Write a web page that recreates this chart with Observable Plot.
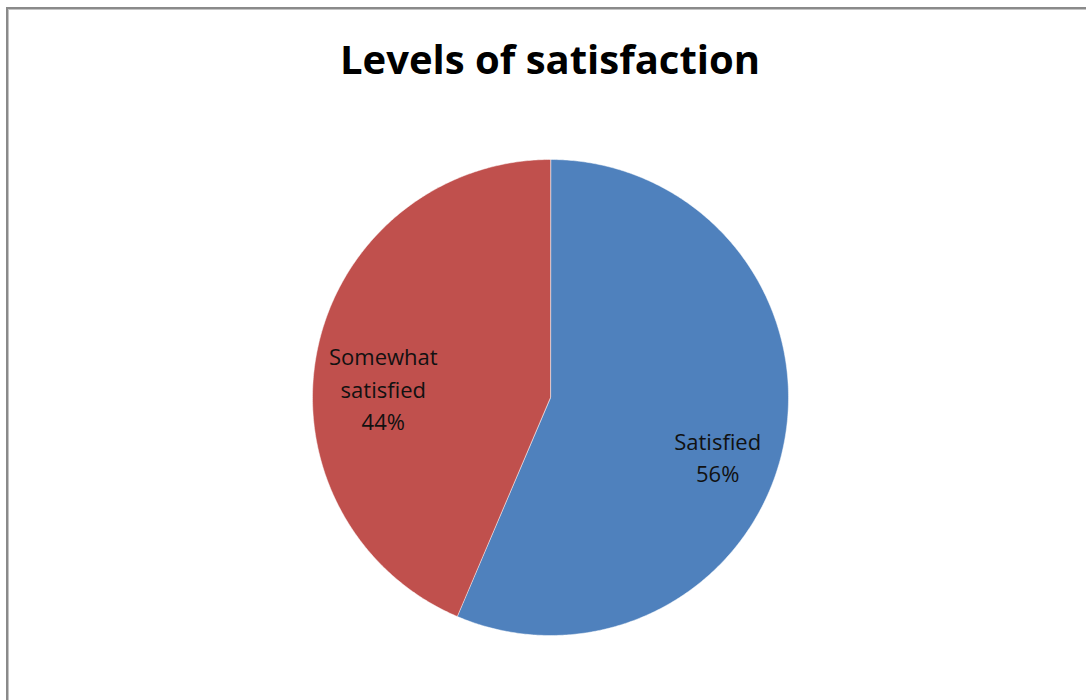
<!DOCTYPE html>
<html>
<head>
<meta charset="utf-8">
<script src="https://cdn.jsdelivr.net/npm/d3@7"></script>
<script src="https://cdn.jsdelivr.net/npm/@observablehq/plot@0.6"></script>
<style>
  html, body { margin: 0; padding: 0; background: #fff; }
  #wrap { position: relative; width: 1086px; height: 700px; overflow: hidden; }
  #frame { position: absolute; left: 6px; top: 7px; width: 1200px; height: 800px;
           border: 2px solid #8a8a8a; box-shadow: inset 1px 1px 0 #c4c4c4; }
  #chart { position: absolute; left: 0; top: 0; }
  #title { position: absolute; left: 0; width: 1100px; top: 39px; text-align: center;
           font-family: "Open Sans", sans-serif; font-weight: 700; font-size: 40px;
           line-height: 40px; letter-spacing: 0px; color: #000; }
</style>
</head>
<body>
<div id="wrap">
  <div id="frame"></div>
  <div id="chart"></div>
  <div id="title">Levels of satisfaction</div>
</div>
<script>
const categories = ["Satisfied", "Somewhat satisfied"];
const values = [56.4, 43.6];
const colors = ["#4F81BD", "#C0504D"];
const labelNames = ["Satisfied", "Somewhat\nsatisfied"];

const total = d3.sum(values);
// slices clockwise from 12 o'clock
let acc = 0;
const slices = categories.map((c, i) => {
  const a0 = acc / total * 2 * Math.PI;
  acc += values[i];
  const a1 = acc / total * 2 * Math.PI;
  return {cat: c, i, a0, a1, pct: Math.round(values[i] / total * 100)};
});

function slicePoints(s) {
  const pts = [{x: 0, y: 0, cat: s.cat}];
  const n = Math.max(2, Math.ceil((s.a1 - s.a0) / (Math.PI / 360)));
  for (let k = 0; k <= n; k++) {
    const a = s.a0 + (s.a1 - s.a0) * k / n;
    pts.push({x: Math.sin(a), y: Math.cos(a), cat: s.cat});
  }
  return pts;
}

const labelR = 0.717;
const labels = slices.map(s => {
  const m = (s.a0 + s.a1) / 2;
  return {x: labelR * Math.sin(m), y: labelR * Math.cos(m),
          text: labelNames[s.i] + "\n" + s.pct + "%"};
});

const marks = slices.map(s =>
  Plot.line(slicePoints(s), {x: "x", y: "y", fill: colors[s.i], stroke: "#ffffff",
    strokeWidth: 0.8, strokeOpacity: 0.6, curve: "linear-closed"})
);
marks.push(Plot.text(labels, {x: "x", y: "y", text: "text", dy: 24,
  fontSize: 22, lineHeight: 1.48, fill: "#111", fontFamily: "Open Sans, sans-serif"}));

const plot = Plot.plot({
  width: 1086, height: 700,
  marginLeft: 312, marginRight: 298, marginTop: 159, marginBottom: 65,
  x: {domain: [-1, 1], axis: null},
  y: {domain: [-1, 1], axis: null},
  style: {background: "transparent", overflow: "visible"},
  marks
});
document.getElementById("chart").appendChild(plot);
</script>
</body>
</html>
